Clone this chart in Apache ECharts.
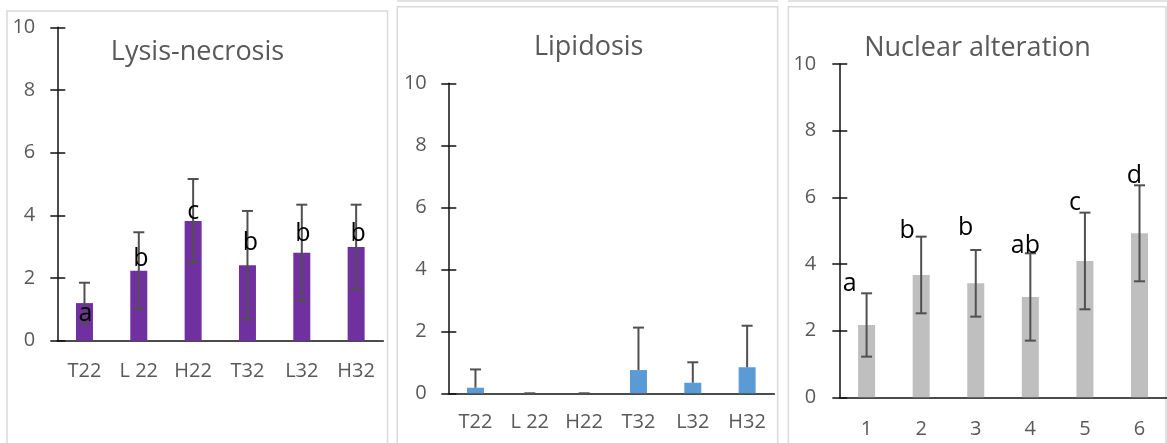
<!DOCTYPE html>
<html><head><meta charset="utf-8">
<script src="https://cdn.jsdelivr.net/npm/echarts@6/dist/echarts.min.js"></script>
<style>html,body{margin:0;padding:0;background:#fff}#c{width:1167px;height:443px}</style>
</head><body><div id="c"></div>
<script>
// ---- data ----
const groups = ['T22', 'L 22', 'H22', 'T32', 'L32', 'H32'];
const groupsNum = ['1', '2', '3', '4', '5', '6'];
const panelTitles = ['Lysis-necrosis', 'Lipidosis', 'Nuclear alteration'];
const lysisMean = [1.20, 2.23, 3.82, 2.41, 2.81, 2.99];
const lysisSD = [0.65, 1.23, 1.34, 1.73, 1.53, 1.35];
const lysisLetters = ['a', 'b', 'c', 'b', 'b', 'b'];
const lysisLetterY = [0.86, 2.62, 4.11, 3.13, 3.41, 3.41];
const lipMean = [0.18, 0, 0, 0.75, 0.34, 0.84];
const lipSD = [0.59, 0, 0, 1.37, 0.66, 1.34];
const nucMean = [2.17, 3.67, 3.42, 3.01, 4.09, 4.92];
const nucSD = [0.95, 1.15, 1.00, 1.31, 1.45, 1.44];
const nucLetters = ['a', 'b', 'b', 'ab', 'c', 'd'];
const nucLetterY = [3.41, 4.98, 5.08, 4.54, 5.84, 6.63];

// ---- style ----
const FONT = '"Open Sans", sans-serif';
const GREY = '#595959';
const lysisLetterDx = [1, 2, 0, 3, 1, 2];
const nucLetterDx = [-17, -14, -10, -5, -10, -5];

const grids = [
  {left: 57.3, top: 27.3, width: 326, height: 313.4},
  {left: 448.3, top: 83.3, width: 326, height: 310},
  {left: 839.3, top: 64, width: 327.5, height: 333.3}
];
const labelMarginX = [21, 19, 22];
const yLabelMargin = [22, 21.5, 23];

const xAxes = [], yAxes = [], series = [];
grids.forEach((g, i) => {
  xAxes.push({
    type: 'category', gridIndex: i, data: i === 2 ? groupsNum : groups,
    axisTick: {show: false},
    axisLine: {lineStyle: {color: '#111', width: 1.5}},
    axisLabel: {color: GREY, fontSize: 20, fontFamily: FONT, margin: labelMarginX[i]}
  });
  yAxes.push({
    type: 'value', gridIndex: i, min: 0, max: 10, interval: 2, position: 'left',
    splitLine: {show: false},
    axisLine: {show: true, lineStyle: {color: '#111', width: 1.5}},
    axisTick: {show: true, length: 7, lineStyle: {color: '#111', width: 1.5}},
    axisLabel: {color: GREY, fontSize: 20, fontFamily: FONT, margin: yLabelMargin[i]}
  });
  yAxes.push({
    type: 'value', gridIndex: i, min: 0, max: 10, interval: 2, position: 'left',
    splitLine: {show: false},
    axisLine: {show: false},
    axisTick: {show: true, inside: true, length: 8, lineStyle: {color: '#111', width: 1.5}},
    axisLabel: {show: false}
  });
});

function errSeries(idx, mean, sd, plusOnly) {
  return {
    type: 'custom', xAxisIndex: idx, yAxisIndex: idx * 2, clip: false, z: 5,
    data: mean.map((m, k) => [k, plusOnly ? m : m - sd[k], m + sd[k], plusOnly ? 1 : 0]),
    renderItem: function (params, api) {
      const x = api.value(0);
      const lo = api.coord([x, api.value(1)]);
      const hi = api.coord([x, api.value(2)]);
      const hw = 5.5;
      const st = {stroke: '#505050', lineWidth: 2};
      const ch = [
        {type: 'line', shape: {x1: hi[0], y1: hi[1], x2: lo[0], y2: lo[1]}, style: st},
        {type: 'line', shape: {x1: hi[0] - hw, y1: hi[1], x2: hi[0] + hw, y2: hi[1]}, style: st}
      ];
      if (!api.value(3)) ch.push({type: 'line', shape: {x1: lo[0] - hw, y1: lo[1], x2: lo[0] + hw, y2: lo[1]}, style: st});
      return {type: 'group', children: ch};
    }
  };
}
function letterSeries(idx, letters, ys, dx) {
  return {
    type: 'custom', xAxisIndex: idx, yAxisIndex: idx * 2, clip: false, z: 6,
    data: letters.map((l, k) => [k, ys[k]]),
    renderItem: function (params, api) {
      const k = params.dataIndex;
      const p = api.coord([api.value(0), api.value(1)]);
      return {type: 'text', x: p[0] + dx[k], y: p[1],
        style: {text: letters[k], fill: '#000', font: '25px ' + FONT, align: 'center', verticalAlign: 'middle'}};
    }
  };
}

const barColors = ['#7030A0', '#5B9BD5', '#BFBFBF'];
[lysisMean, lipMean, nucMean].forEach((m, i) => {
  series.push({type: 'bar', xAxisIndex: i, yAxisIndex: i * 2, data: m, barWidth: 17,
    itemStyle: {color: barColors[i]}, silent: true});
});
series.push(errSeries(0, lysisMean, lysisSD, false));
series.push(errSeries(1, lipMean, lipSD, true));
series.push(errSeries(2, nucMean, nucSD, false));
series.push(letterSeries(0, lysisLetters, lysisLetterY, lysisLetterDx));
series.push(letterSeries(2, nucLetters, nucLetterY, nucLetterDx));

const frame = {stroke: '#D9D9D9', lineWidth: 1.5, fill: 'none'};
const titlePos = [[197.5, 52], [588.7, 47.5], [977.5, 48.5]];
const graphic = [
  {type: 'rect', shape: {x: 7, y: 11, width: 380.5, height: 450}, style: frame, z: -1},
  {type: 'rect', shape: {x: 397.3, y: 6.7, width: 380.4, height: 450}, style: frame, z: -1},
  {type: 'rect', shape: {x: 788.3, y: 6.7, width: 377.7, height: 450}, style: frame, z: -1},
  {type: 'line', shape: {x1: 397, y1: 1, x2: 778, y2: 1}, style: {stroke: '#D9D9D9', lineWidth: 1.5}},
  {type: 'line', shape: {x1: 788, y1: 1, x2: 1167, y2: 1}, style: {stroke: '#D9D9D9', lineWidth: 1.5}}
];
panelTitles.forEach((t, i) => {
  graphic.push({type: 'text', x: titlePos[i][0], y: titlePos[i][1],
    style: {text: t, fill: GREY, font: '27px ' + FONT, align: 'center', verticalAlign: 'middle'}});
});

const chart = echarts.init(document.getElementById('c'), null, {renderer: 'canvas'});
chart.setOption({
  animation: false,
  backgroundColor: '#fff',
  grid: grids.map(g => Object.assign({outerBoundsMode: 'none', containLabel: false}, g)),
  xAxis: xAxes, yAxis: yAxes, series: series, graphic: graphic
});
</script></body></html>
